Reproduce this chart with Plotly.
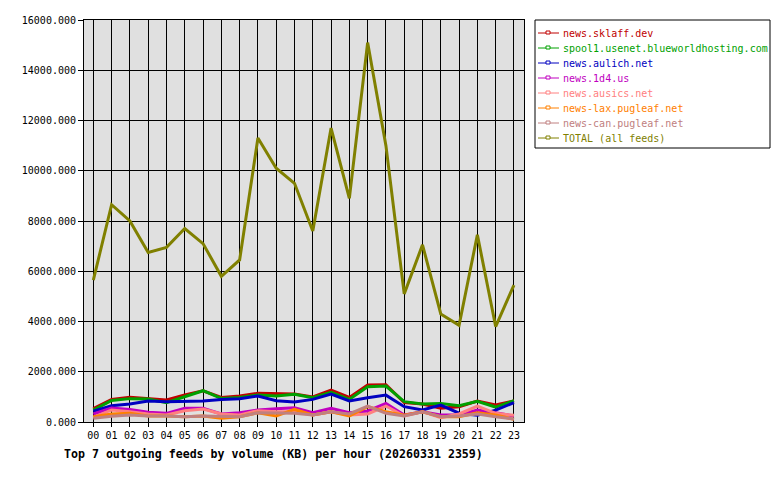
import plotly.graph_objects as go

hours = [f"{h:02d}" for h in range(24)]

names = ["news.sklaff.dev", "spool1.usenet.blueworldhosting.com", "news.aulich.net",
         "news.1d4.us", "news.ausics.net", "news-lax.pugleaf.net", "news-can.pugleaf.net",
         "TOTAL (all feeds)"]
colors = ["#c00000", "#00a000", "#0000c0", "#c000c0", "#ff8080", "#ff8000", "#c08080", "#808000"]

sklaff = [530, 900, 980, 915, 875, 1080, 1245, 980, 1035, 1140, 1110, 1110,
          1000, 1270, 980, 1470, 1485, 770, 715, 545, 610, 835, 675, 835]
spool1 = [470, 860, 930, 915, 770, 1000, 1245, 940, 980, 1070, 1035, 1100,
          965, 1180, 900, 1400, 1430, 810, 715, 740, 650, 820, 595, 850]
aulich = [430, 650, 720, 840, 810, 835, 835, 900, 930, 1035, 850, 795,
          900, 1110, 835, 965, 1070, 610, 475, 675, 350, 265, 475, 770]
d4 = [320, 560, 500, 385, 345, 545, 545, 320, 370, 475, 530, 570,
      370, 545, 370, 440, 740, 280, 410, 280, 280, 475, 370, 240]
ausics = [185, 480, 410, 320, 280, 450, 515, 320, 280, 450, 410, 410,
          280, 410, 280, 320, 635, 240, 410, 170, 320, 635, 345, 265]
lax = [210, 320, 345, 240, 240, 210, 240, 145, 210, 370, 240, 500,
       280, 410, 240, 610, 410, 265, 410, 210, 210, 370, 280, 105]
can = [145, 230, 280, 240, 240, 210, 240, 210, 210, 370, 370, 345,
       280, 410, 320, 635, 345, 240, 410, 210, 240, 320, 210, 120]
total = [5650, 8650, 8000, 6750, 6950, 7700, 7100, 5800, 6450, 11300, 10100, 9500,
         7600, 11700, 8900, 15100, 11000, 5100, 7050, 4300, 3850, 7450, 3800, 5450]

series = [sklaff, spool1, aulich, d4, ausics, lax, can, total]
y_ticks = [0, 2000, 4000, 6000, 8000, 10000, 12000, 14000, 16000]

FONT = "DejaVu Sans Mono"

# plot area geometry in pixels
L, R, T, B = 84, 524, 20, 422
W, H = R - L, B - T


def px(x):
    return (x - L) / W


def py(y):
    return (B - y) / H


fig = go.Figure()
for name, col, vals in zip(names, colors, series):
    fig.add_trace(go.Scatter(
        x=list(range(24)), y=vals, name=name, mode="lines",
        line=dict(color=col, width=3), showlegend=False,
    ))

shapes = []
annotations = []
# legend box
shapes.append(dict(type="rect", xref="paper", yref="paper",
                   x0=px(535), x1=px(770), y0=py(148), y1=py(20),
                   line=dict(color="black", width=1), fillcolor="white", layer="above"))
for i, (name, col) in enumerate(zip(names, colors)):
    yc = 33 + 15 * i
    shapes.append(dict(type="line", xref="paper", yref="paper",
                       x0=px(538), x1=px(559), y0=py(yc), y1=py(yc),
                       line=dict(color=col, width=1), layer="above"))
    shapes.append(dict(type="rect", xref="paper", yref="paper",
                       x0=px(546), x1=px(550), y0=py(yc + 1), y1=py(yc - 2),
                       line=dict(color=col, width=1), fillcolor="white", layer="above"))
    annotations.append(dict(text=name, xref="paper", yref="paper",
                            x=px(561), y=py(yc), xanchor="left", yanchor="middle",
                            showarrow=False, font=dict(family=FONT, size=10, color=col)))

annotations.append(dict(text="<b>Top 7 outgoing feeds by volume (KB) per hour (20260331 2359)</b>",
                        xref="paper", yref="paper", x=px(62), y=py(445),
                        xanchor="left", yanchor="top", showarrow=False,
                        font=dict(family=FONT, size=11.6, color="black")))

fig.update_layout(
    width=780, height=480,
    margin=dict(l=L, r=780 - R, t=T, b=480 - B, autoexpand=False),
    paper_bgcolor="white", plot_bgcolor="#e0e0e0",
    font=dict(family=FONT, size=10, color="black"),
    showlegend=False,
    xaxis=dict(range=[-0.51, 23.55], tickmode="array", tickvals=list(range(24)),
               ticktext=hours, showgrid=True, gridcolor="black", gridwidth=1,
               ticks="outside", ticklen=4, tickcolor="black",
               showline=True, linecolor="black", mirror=True, zeroline=False,
               tickfont=dict(family=FONT, size=10)),
    yaxis=dict(range=[0, 16000], tickmode="array", tickvals=y_ticks,
               ticktext=[f"{v:.3f}" for v in y_ticks], showgrid=True,
               gridcolor="black", gridwidth=1, ticks="outside", ticklen=5,
               tickcolor="black", showline=True, linecolor="black", mirror=True,
               zeroline=False, tickfont=dict(family=FONT, size=10)),
    shapes=shapes,
    annotations=annotations,
)

fig.write_html("out.html")
